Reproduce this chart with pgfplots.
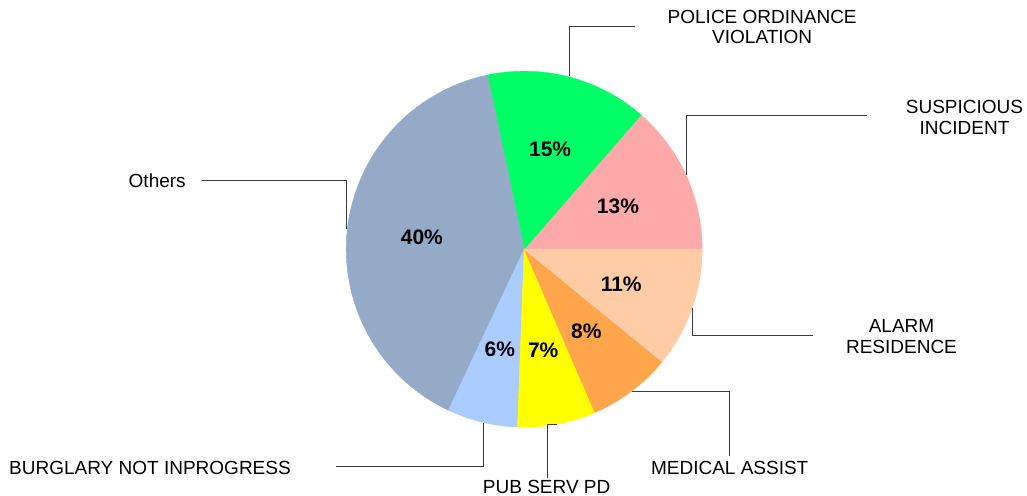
\documentclass[border=0pt]{standalone}
\usepackage{pgfplots}
\pgfplotsset{compat=1.18}
\usepackage{pgfplotstable}
\usepackage{fontspec}
\setmainfont{Liberation Sans}
\definecolor{c0}{RGB}{255,170,170}
\definecolor{c1}{RGB}{0,255,102}
\definecolor{c2}{RGB}{149,170,199}
\definecolor{c3}{RGB}{170,204,255}
\definecolor{c4}{RGB}{255,255,0}
\definecolor{c5}{RGB}{255,166,77}
\definecolor{c6}{RGB}{255,204,166}
\definecolor{lead}{RGB}{60,60,60}
\newcommand\pctfont{\bfseries\fontsize{21bp}{24bp}\selectfont}
\newcommand\catfont{\fontsize{19bp}{21bp}\selectfont}
% percent share of each slice, counter-clockwise from 3 o'clock
\pgfplotstableread{
pct lab
13.6 13
14.7 15
39.7 40
6.4 6
7.1 7
7.6 8
10.9 11
}\piedata
\begin{document}
\begin{tikzpicture}
\begin{axis}[x=1bp,y=1bp,xmin=0,xmax=1027,ymin=0,ymax=496,hide axis,clip=false,scale only axis]
\gdef\cumang{0}
\pgfplotsforeachungrouped \i in {0,...,6}{%
  \pgfplotstablegetelem{\i}{pct}\of\piedata
  \let\sV\pgfplotsretval
  \pgfplotstablegetelem{\i}{lab}\of\piedata
  \let\sL\pgfplotsretval
  \pgfmathsetmacro\sA{\cumang}%
  \pgfmathsetmacro\sB{\cumang+3.6*\sV}%
  \pgfmathsetmacro\sM{(\sA+\sB)/2}%
  \pgfmathsetmacro\px{524.2+103*cos(\sM)}%
  \pgfmathsetmacro\py{246.8+103*sin(\sM)}%
  \edef\tmp{\noexpand\addplot[fill=c\i,draw=c\i,line width=0.4bp,domain=\sA:\sB,samples=90] ({524.2+178*cos(x)},{246.8+178*sin(x)}) -- (axis cs:524.2,246.8) -- cycle;}%
  \tmp
  \edef\tmp{\noexpand\node[font=\noexpand\pctfont,inner sep=0pt] at (axis cs:\px,\py) {\sL\noexpand\%};}%
  \tmp
  \xdef\cumang{\sB}%
}
% leader lines
\draw[lead,line width=1bp] (axis cs:202.3,315.7) -- (axis cs:346.7,315.7) -- (axis cs:346.7,266.7);
\draw[lead,line width=1bp] (axis cs:569,420) -- (axis cs:569,469.3) -- (axis cs:635,469.3);
\draw[lead,line width=1bp] (axis cs:686,321) -- (axis cs:686,380) -- (axis cs:866.7,380);
\draw[lead,line width=1bp] (axis cs:692.3,188) -- (axis cs:692.3,160.7) -- (axis cs:813.3,160.7);
\draw[lead,line width=1bp] (axis cs:631.7,104.7) -- (axis cs:729.3,104.7) -- (axis cs:729.3,40);
\draw[lead,line width=1bp] (axis cs:557.3,71) -- (axis cs:547,71) -- (axis cs:547,17.7);
\draw[lead,line width=1bp] (axis cs:483,72.7) -- (axis cs:483,29.3) -- (axis cs:335.7,29.3);
% category labels
\node[font=\catfont,anchor=base,inner sep=0pt] at (axis cs:157.2,309) {Others};
\node[font=\catfont,anchor=base,inner sep=0pt] at (axis cs:762.2,472.7) {POLICE ORDINANCE};
\node[font=\catfont,anchor=base,inner sep=0pt] at (axis cs:762.2,452) {VIOLATION};
\node[font=\catfont,anchor=base,inner sep=0pt] at (axis cs:964.5,382.7) {SUSPICIOUS};
\node[font=\catfont,anchor=base,inner sep=0pt] at (axis cs:964.5,362) {INCIDENT};
\node[font=\catfont,anchor=base,inner sep=0pt] at (axis cs:901.5,163.7) {ALARM};
\node[font=\catfont,anchor=base,inner sep=0pt] at (axis cs:901.5,142.7) {RESIDENCE};
\node[font=\catfont,anchor=base,inner sep=0pt] at (axis cs:729.7,22) {MEDICAL ASSIST};
\node[font=\catfont,anchor=base,inner sep=0pt] at (axis cs:546.7,2.2) {PUB SERV PD};
\node[font=\catfont,anchor=base,inner sep=0pt] at (axis cs:150,22) {BURGLARY NOT INPROGRESS};
\end{axis}
\pgfresetboundingbox
\path (0,0) rectangle (1027bp,496bp);
\end{tikzpicture}
\end{document}
